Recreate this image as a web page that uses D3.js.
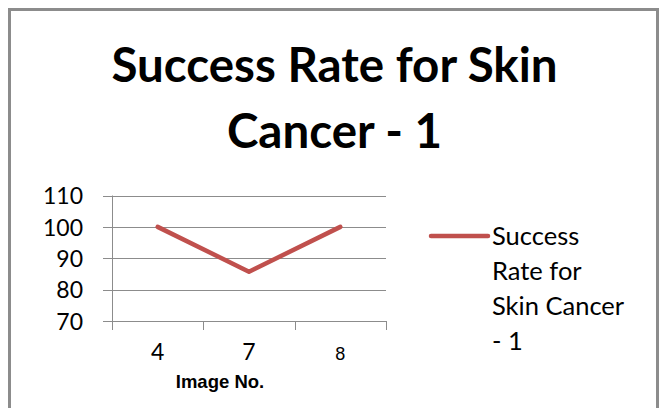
<!DOCTYPE html>
<html>
<head>
<meta charset="utf-8">
<script src="https://cdn.jsdelivr.net/npm/d3@7/dist/d3.min.js"></script>
<style>
  html, body { margin: 0; padding: 0; background: #fff; }
  svg { display: block; }
</style>
</head>
<body>
<script>
// Chart data
const categories = ["4", "7", "8"];
const successRate = [100, 85.71, 100];
const yTicks = [70, 80, 90, 100, 110];
const titleLines = ["Success Rate for Skin", "Cancer - 1"];
const legendLines = ["Success", "Rate for", "Skin Cancer", "- 1"];
const xAxisTitle = "Image No.";

const W = 665, H = 408;
const lineColor = "#c0504d";
const gridColor = "#8c8c8c";

const svg = d3.select("body").append("svg")
  .attr("width", W).attr("height", H);

// chart frame (runs past the bottom edge)
svg.append("rect")
  .attr("x", 9.5).attr("y", 9.5)
  .attr("width", 648).attr("height", 420)
  .attr("fill", "#fff")
  .attr("stroke", gridColor)
  .attr("stroke-width", 3);

// title
const title = svg.append("g");
title.selectAll("text").data(titleLines).join("text")
  .attr("x", 334.5)
  .attr("y", (d, i) => 82 + i * 66)
  .attr("text-anchor", "middle")
  .attr("font-family", "Lato, 'Open Sans', sans-serif")
  .attr("font-weight", 700)
  .attr("font-size", 47.5)
  .attr("fill", "#000")
  .text(d => d);

// scales
const x = d3.scaleBand().domain(categories).range([112, 386]);
const y = d3.scaleLinear().domain([70, 110]).range([321, 195.5]);

// horizontal gridlines and y tick marks
const yAxis = d3.axisLeft(y).tickValues(yTicks).tickSize(9).tickFormat(d3.format("d")).tickPadding(20);
const yg = svg.append("g").attr("transform", "translate(112,0)").call(yAxis);
yg.select(".domain").attr("stroke", gridColor).attr("d", `M0.5,${y(110)}V${y(70)}`);
yg.selectAll(".tick line").attr("stroke", gridColor).attr("x1", 0.5).attr("x2", -9);
yg.selectAll(".tick").append("line")
  .attr("x1", 0).attr("x2", 386 - 112)
  .attr("stroke", gridColor);
yg.selectAll(".tick text")
  .attr("font-family", "Lato, 'Open Sans', sans-serif")
  .attr("font-size", 23)
  .attr("fill", "#000")
  .attr("x", -29)
  .attr("dy", "0.36em");
yg.selectAll(".tick line").attr("shape-rendering", "crispEdges");

// x axis with ticks at band boundaries
const xg = svg.append("g").attr("transform", `translate(0,${y(70)})`);
xg.append("line")
  .attr("x1", 112).attr("x2", 386.5)
  .attr("stroke", gridColor).attr("shape-rendering", "crispEdges");
const bounds = categories.map(c => x(c)).concat([x(categories[categories.length - 1]) + x.bandwidth()]);
xg.selectAll("line.tk").data(bounds).join("line")
  .attr("class", "tk")
  .attr("x1", d => Math.round(d) + 0.5).attr("x2", d => Math.round(d) + 0.5)
  .attr("y1", 0).attr("y2", 9)
  .attr("stroke", gridColor);
xg.selectAll("text").data(categories).join("text")
  .attr("x", d => x(d) + x.bandwidth() / 2)
  .attr("y", 39)
  .attr("text-anchor", "middle")
  .attr("font-family", (d, i) => i === 2 ? "'Liberation Sans', Arial, sans-serif" : "Lato, 'Open Sans', sans-serif")
  .attr("font-size", (d, i) => i === 2 ? 18 : 23)
  .attr("fill", "#000")
  .text(d => d);

// x axis title
svg.append("text")
  .attr("x", 220).attr("y", 388)
  .attr("text-anchor", "middle")
  .attr("font-family", "'Liberation Sans', Arial, sans-serif")
  .attr("font-weight", 700)
  .attr("font-size", 18.5)
  .attr("fill", "#000")
  .text(xAxisTitle);

// series line
const line = d3.line()
  .x((d, i) => x(categories[i]) + x.bandwidth() / 2)
  .y(d => y(d));
svg.append("path")
  .datum(successRate)
  .attr("d", line)
  .attr("fill", "none")
  .attr("stroke", lineColor)
  .attr("stroke-width", 4.5)
  .attr("stroke-linejoin", "round")
  .attr("stroke-linecap", "round");

// legend
const lg = svg.append("g");
lg.append("line")
  .attr("x1", 431).attr("x2", 488)
  .attr("y1", 236).attr("y2", 236)
  .attr("stroke", lineColor)
  .attr("stroke-width", 4.5)
  .attr("stroke-linecap", "round");
lg.selectAll("text").data(legendLines).join("text")
  .attr("x", 492)
  .attr("y", (d, i) => 245 + i * 35)
  .attr("font-family", "Lato, 'Open Sans', sans-serif")
  .attr("font-size", 25.5)
  .attr("fill", "#000")
  .text(d => d);
</script>
</body>
</html>
